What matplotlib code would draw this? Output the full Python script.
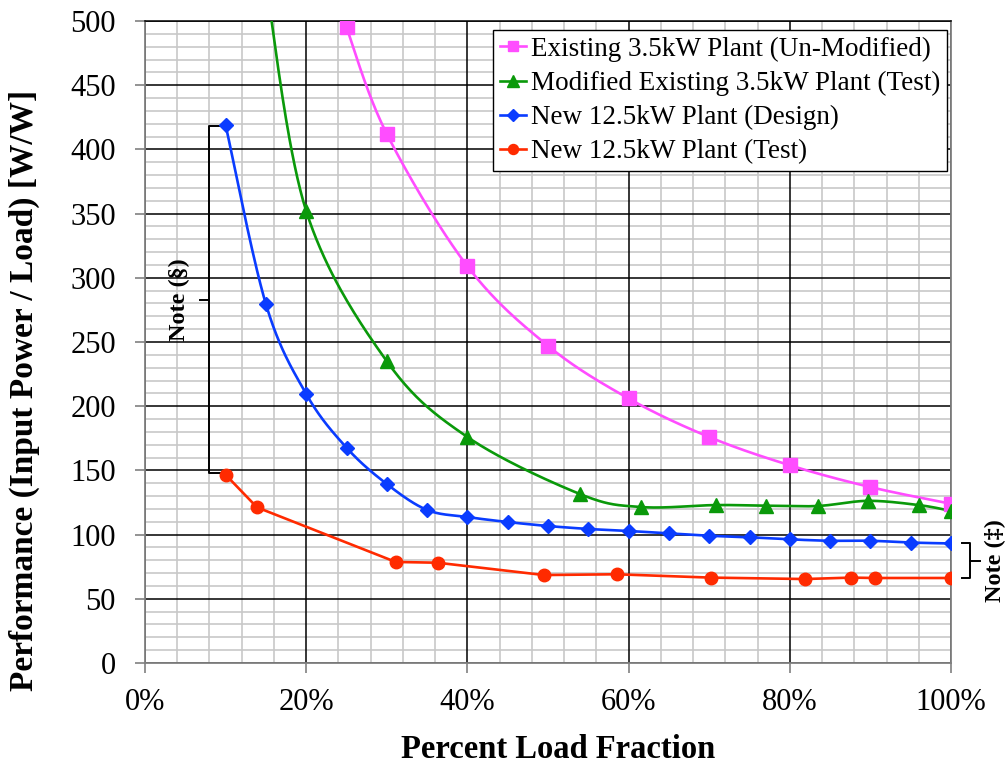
import numpy as np
import matplotlib
matplotlib.use("Agg")
import matplotlib.pyplot as plt
from matplotlib.lines import Line2D

plt.rcParams['font.family'] = ['Liberation Serif', 'DejaVu Serif']

# ---------------- data ----------------
existing_x = [25, 30, 40, 50, 60, 70, 80, 90, 100]
existing_y = [495, 412, 309, 247, 206, 176, 154, 137, 124]

modified_x = [15, 20, 30, 40, 54, 61.5, 70.8, 77.1, 83.5, 89.7, 96.0, 100]
modified_y = [530, 352, 235, 176, 131.5, 121.5, 123, 122.5, 122.3, 126.3, 123, 118.5]

design_x = [10, 15, 20, 25, 30, 35, 40, 45, 50, 55, 60, 65, 70, 75, 80, 85, 90, 95, 100]
design_y = [419, 279.5, 209.5, 167.7, 139.4, 119.2, 113.7, 109.8, 106.7, 104.4, 102.8,
            101.0, 99.1, 97.9, 96.3, 95.2, 95.2, 93.8, 93.1]

test_x = [10, 13.9, 31.1, 36.3, 49.5, 58.5, 70.2, 81.9, 87.6, 90.6, 100]
test_y = [146.6, 121.2, 78.7, 78.1, 68.5, 69.1, 66.5, 65.4, 66.5, 66.2, 66.2]

labels = ["Existing 3.5kW Plant (Un-Modified)",
          "Modified Existing 3.5kW Plant (Test)",
          "New 12.5kW Plant (Design)",
          "New 12.5kW Plant (Test)"]

x_ticks = [0, 20, 40, 60, 80, 100]
y_ticks = list(range(0, 501, 50))
x_minor = list(range(0, 101, 4))
y_minor = list(range(0, 501, 10))

c_pink = '#ff4dff'
c_green = '#0a990a'
c_blue = '#0a3cff'
c_red = '#ff2a00'


def excel_smooth(x, y, n=40):
    P = np.column_stack([x, y]).astype(float)
    E = np.vstack([P[0], P, P[-1]])
    out = []
    t = np.linspace(0, 1, n)[:, None]
    for i in range(len(P) - 1):
        p0, p1, p2, p3 = E[i], E[i + 1], E[i + 2], E[i + 3]
        c1 = p1 + (p2 - p0) / 6.0
        c2 = p2 - (p3 - p1) / 6.0
        seg = (1 - t) ** 3 * p1 + 3 * (1 - t) ** 2 * t * c1 + 3 * (1 - t) * t ** 2 * c2 + t ** 3 * p2
        out.append(seg if i == 0 else seg[1:])
    s = np.vstack(out)
    return s[:, 0], s[:, 1]


fig = plt.figure(figsize=(10.08, 7.67), dpi=100)
ax = fig.add_axes([145 / 1008, 1 - 663 / 767, (951 - 145) / 1008, (663 - 21) / 767])

ax.set_xlim(0, 100)
ax.set_ylim(0, 500)
ax.set_xticks(x_ticks)
ax.set_xticklabels([f"{v}%" for v in x_ticks])
ax.set_yticks(y_ticks)

# gridlines: all minor (gray) below all major (black)
for v in x_minor:
    if v not in x_ticks:
        ax.axvline(v, color='#c8c8c8', lw=1.2, zorder=0.5)
for v in y_minor:
    if v not in y_ticks:
        ax.axhline(v, color='#c8c8c8', lw=1.2, zorder=0.5)
for v in x_ticks:
    ax.axvline(v, color='black', lw=1.1, zorder=0.6)
for v in y_ticks:
    ax.axhline(v, color='black', lw=1.1, zorder=0.6)

ax.tick_params(which='major', direction='out', length=7, width=1.2, color='#808080',
               labelsize=22)
ax.tick_params(axis='y', which='major', pad=14)
ax.tick_params(axis='x', which='major', pad=11)
for s in ['left', 'bottom', 'right']:
    ax.spines[s].set_color('#808080')
    ax.spines[s].set_linewidth(1.3)
ax.spines['top'].set_color('black')
ax.spines['top'].set_linewidth(1.1)

series = [
    (existing_x, existing_y, c_pink, 's', 9.5, True),
    (modified_x, modified_y, c_green, '^', 10, True),
    (design_x, design_y, c_blue, 'D', 7.5, True),
    (test_x, test_y, c_red, 'o', 9, False),
]
handles = []
for (xs, ys, col, mk, ms, smooth), lab in zip(series, labels):
    if smooth:
        sx, sy = excel_smooth(xs, ys)
    else:
        sx, sy = xs, ys
    ax.plot(sx, sy, color=col, lw=1.9, zorder=3)
    ax.plot(xs, ys, ls='none', marker=mk, ms=ms, color=col, mec=col, zorder=4)
    handles.append(Line2D([], [], color=col, lw=1.9, marker=mk, ms=ms * 0.8, mec=col))

leg = ax.legend(handles, labels, loc='upper right',
                bbox_to_anchor=(947 / 1008, 1 - 30 / 767), bbox_transform=fig.transFigure,
                borderaxespad=0, fontsize=19.5, handlelength=0.95, handletextpad=0.2,
                labelspacing=0.34, borderpad=0.24, fancybox=False, framealpha=1)
leg.get_frame().set_edgecolor('black')
leg.get_frame().set_linewidth(1.0)
leg.set_zorder(6)

# Note (§) bracket
bx = 7.9
mid_l = (design_y[0] + test_y[0]) / 2
ax.plot([design_x[0], bx, bx, test_x[0]], [design_y[0] - 1, design_y[0] - 1, test_y[0] + 1, test_y[0] + 1],
        color='black', lw=1.4, zorder=2.8)
ax.plot([bx, bx - 1.1], [mid_l, mid_l], color='black', lw=1.4, zorder=2.8)
ax.text(4.3, mid_l, "Note (§)", rotation=90, ha='center', va='center',
        fontsize=17.5, fontweight='bold', zorder=5)

# Note (‡) bracket
rx = 102.4
mid_r = (design_y[-1] + test_y[-1]) / 2
ax.plot([101.4, rx, rx, 101.4], [design_y[-1], design_y[-1], test_y[-1], test_y[-1]],
        color='black', lw=1.4, clip_on=False)
ax.plot([rx, rx + 1.2], [mid_r, mid_r], color='black', lw=1.4, clip_on=False)
ax.text(105.5, mid_r, "Note (‡)", rotation=90, ha='center', va='center',
        fontsize=17.5, fontweight='bold', clip_on=False)

fig.text(24 / 1008, 1 - 390 / 767, "Performance (Input Power / Load) [W/W]", rotation=90,
         ha='center', va='center', fontsize=24, fontweight='bold')
fig.text(558 / 1008, 1 - 750 / 767, "Percent Load Fraction", ha='center', va='center',
         fontsize=23.5, fontweight='bold')

fig.savefig('out.png', dpi=100)
